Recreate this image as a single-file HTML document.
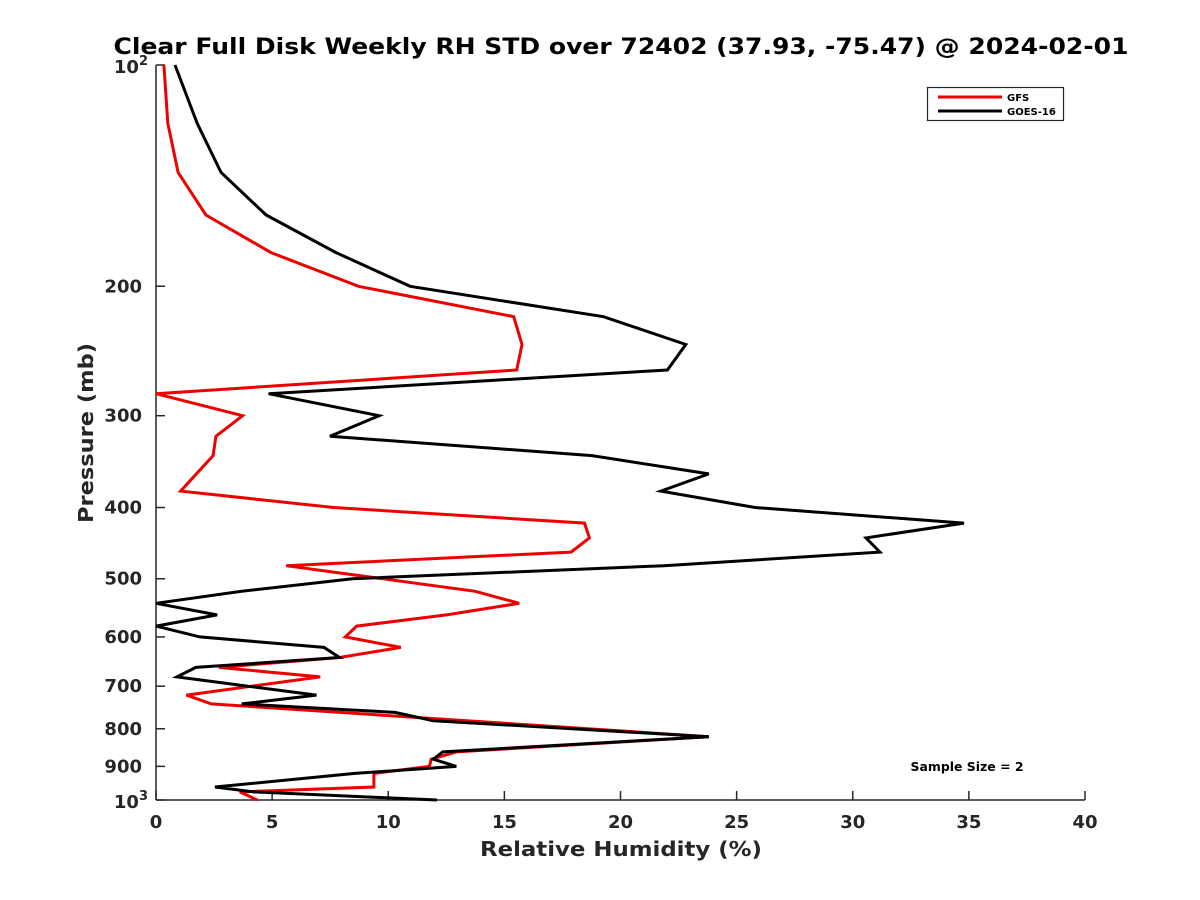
<!DOCTYPE html>
<html><head><meta charset="utf-8"><style>
body{margin:0;background:#fff;}
svg{display:block;font-family:"DejaVu Sans","Liberation Sans",sans-serif;}
</style></head><body>
<svg id="chart" width="1200" height="900" viewBox="0 0 1200 900">
<rect width="1200" height="900" fill="#fff"/>
<text x="621" y="54" text-anchor="middle" font-size="22.5" font-weight="bold" fill="#000" textLength="1015" lengthAdjust="spacingAndGlyphs">Clear Full Disk Weekly RH STD over 72402 (37.93, -75.47) @ 2024-02-01</text>
<g id="axes"></g>
<g id="series"></g>
<text x="621" y="856" text-anchor="middle" font-size="20.5" font-weight="bold" fill="#262626" textLength="282" lengthAdjust="spacingAndGlyphs">Relative Humidity (%)</text>
<text transform="translate(93,433) rotate(-90)" text-anchor="middle" font-size="20.5" font-weight="bold" fill="#262626" textLength="180" lengthAdjust="spacingAndGlyphs">Pressure (mb)</text>
<g>
<rect x="927.5" y="87.5" width="136" height="33" fill="#fff" stroke="#262626" stroke-width="1.2"/>
<line x1="938" y1="97" x2="1002" y2="97" stroke="#e00" stroke-width="3"/>
<text x="1007" y="101" font-size="10" font-weight="bold">GFS</text>
<line x1="938" y1="111" x2="1002" y2="111" stroke="#000" stroke-width="3"/>
<text x="1007" y="115" font-size="10" font-weight="bold">GOES-16</text>
</g>
<text x="967" y="771" text-anchor="middle" font-size="12" font-weight="bold" textLength="113" lengthAdjust="spacingAndGlyphs">Sample Size = 2</text>
</svg>
<script>
const gfsP=[100,120,140,160,180,200,220,240,260,280,300,320,340,380,400,420,440,460,480,520,540,560,580,600,620,640,660,680,720,740,820,860,880,900,920,960,975,1000];
const gfsRH=[0.34,0.51,0.95,2.15,4.95,8.72,15.4,15.76,15.53,0.0,3.73,2.58,2.46,1.06,7.65,18.45,18.66,17.87,5.6,13.75,15.64,12.51,8.64,8.15,10.54,7.9,2.71,7.07,1.31,2.38,23.8,12.93,11.85,11.77,9.38,9.38,3.61,4.36];
const goesP=[100,120,140,160,180,200,220,240,260,280,300,320,340,360,380,400,420,440,460,480,500,520,540,560,580,600,620,640,660,680,720,740,760,780,820,860,880,900,920,960,975,1000];
const goesRH=[0.82,1.77,2.8,4.74,7.75,10.94,19.27,22.81,22.02,4.85,9.6,7.49,18.77,23.8,21.74,25.79,34.79,30.57,31.17,21.87,8.47,3.69,0,2.63,0,1.89,7.23,7.9,1.72,0.9,6.91,3.69,10.29,11.94,23.8,12.35,11.94,12.93,8.56,2.54,4.19,12.1];
const xTicks=[0,5,10,15,20,25,30,35,40];
const yTicks=[200,300,400,500,600,700,800,900];
const X0=156,X1=1085,Y0=65,Y1=800;
const xs=v=>X0+(v-0)/40*(X1-X0);
const ys=p=>Y0+(Math.log10(p)-2)*(Y1-Y0);
const NS='http://www.w3.org/2000/svg';
function mk(t,a,txt){const e=document.createElementNS(NS,t);for(const k in a)e.setAttribute(k,a[k]);if(txt!=null)e.textContent=txt;return e;}
const ax=document.getElementById('axes');
const xAxis=mk('line',{x1:X0,y1:Y1,x2:X1,y2:Y1,stroke:'#262626','stroke-width':1.5});


ax.appendChild(xAxis);
const yAxis=mk('line',{x1:X0,y1:Y0,x2:X0,y2:Y1,stroke:'#262626','stroke-width':1.5});


ax.appendChild(yAxis);
xTicks.forEach(v=>{
  const x=xs(v);
  const t=mk('line',{x1:x,y1:Y1,x2:x,y2:Y1-9,stroke:'#262626','stroke-width':1.5});
  
  
  ax.appendChild(t);
  const l=mk('text',{x:x,y:Y1+28,'text-anchor':'middle','font-size':18,'font-weight':'bold',fill:'#262626'},String(v));
  
  
  ax.appendChild(l);
});
[100].concat(yTicks,[1000]).forEach(p=>{
  const y=ys(p);
  const t=mk('line',{x1:X0,y1:y,x2:X0+9,y2:y,stroke:'#262626','stroke-width':1.5});
  
  
  ax.appendChild(t);
});
yTicks.forEach(p=>{
  const l=mk('text',{x:X0-14,y:ys(p)+6,'text-anchor':'end','font-size':18,'font-weight':'bold',fill:'#262626'},String(p));
  
  
  ax.appendChild(l);
});
[[100,'2'],[1000,'3']].forEach(([p,e])=>{
  const l=mk('text',{x:X0-8,y:ys(p)+8,'text-anchor':'end','font-size':18,'font-weight':'bold',fill:'#262626'});
  
  
  l.appendChild(mk('tspan',{},'10'));
  l.appendChild(mk('tspan',{dy:-8,'font-size':13},e));
  ax.appendChild(l);
});
const sg=document.getElementById('series');
function draw(P,V,color,name){
  const pts=P.map((p,i)=>xs(V[i]).toFixed(1)+','+ys(p).toFixed(1)).join(' ');
  const pl=mk('polyline',{points:pts,fill:'none',stroke:color,'stroke-width':3,'stroke-linejoin':'miter'});
  
  
  sg.appendChild(pl);
}
draw(gfsP,gfsRH,'#e00','gfs-line');
draw(goesP,goesRH,'#000','goes16-line');
</script>
</body></html>
